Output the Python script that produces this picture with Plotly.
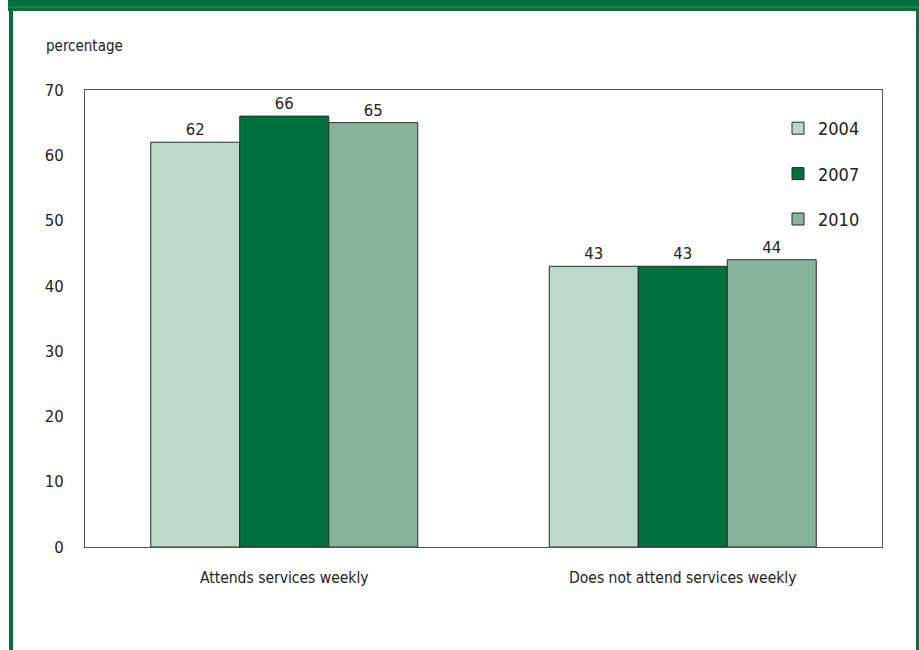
import plotly.graph_objects as go

categories = ["Attends services weekly", "Does not attend services weekly"]
years = ["2004", "2007", "2010"]
values_2004 = [62, 43]
values_2007 = [66, 43]
values_2010 = [65, 44]
colors = ["#bcd9c9", "#00703c", "#86b59b"]
series = [values_2004, values_2007, values_2010]

FONT = "DejaVu Sans Condensed, Liberation Sans, sans-serif"

W, H = 919, 650
L, R, T, B = 85, 37, 90, 103
pw, ph = W - L - R, H - T - B

def px(x):
    return (x - L) / pw

def py(y):
    return (H - B - y) / ph

fig = go.Figure()
for i, (yr, vals) in enumerate(zip(years, series)):
    fig.add_trace(go.Bar(
        x=categories, y=vals, name=yr, legendgroup=yr,
        marker=dict(color=colors[i], line=dict(color="#2a2a2a", width=1)),
        text=[str(v) for v in vals], textposition="outside",
        textfont=dict(family=FONT, size=16.5, color="#222"),
        cliponaxis=False,
    ))

GREEN = "#00703c"
shapes = [
    dict(type="rect", xref="paper", yref="paper", x0=px(8), x1=px(W + 2), y0=py(-3), y1=py(11),
         fillcolor=GREEN, line=dict(width=0), layer="above"),
    dict(type="rect", xref="paper", yref="paper", x0=px(8), x1=px(W + 2), y0=py(6.5), y1=py(7.5),
         fillcolor="#3f8e62", line=dict(width=0), layer="above"),
    dict(type="rect", xref="paper", yref="paper", x0=px(9), x1=px(13), y0=py(11), y1=py(H + 2),
         fillcolor=GREEN, line=dict(width=0), layer="above"),
    dict(type="rect", xref="paper", yref="paper", x0=px(916), x1=px(W + 2), y0=py(11), y1=py(H + 2),
         fillcolor=GREEN, line=dict(width=0), layer="above"),
]

fig.update_layout(
    width=W, height=H,
    margin=dict(l=L, r=R, t=T, b=B, pad=0),
    paper_bgcolor="white", plot_bgcolor="white",
    font=dict(family=FONT, size=16, color="#222"),
    barmode="group", bargap=0.33, bargroupgap=0,
    showlegend=True,
    legend=dict(x=px(778), y=py(110), xanchor="left", yanchor="top",
                bgcolor="rgba(0,0,0,0)", font=dict(family=FONT, size=18, color="#222"),
                tracegroupgap=19, itemwidth=30, traceorder="grouped"),
    xaxis=dict(showline=True, linecolor="#555", linewidth=1, mirror=True,
               ticks="", ticklabelstandoff=16, tickfont=dict(size=15.5)),
    yaxis=dict(range=[0, 70], dtick=10, showline=True, linecolor="#555", linewidth=1,
               mirror=True, showgrid=False, zeroline=False, ticks="",
               ticklabelstandoff=17, tickfont=dict(size=16.5)),
    shapes=shapes,
    annotations=[dict(text="percentage", xref="paper", yref="paper", x=px(44), y=py(46),
                      xanchor="left", yanchor="middle", showarrow=False,
                      font=dict(family=FONT, size=15, color="#222"))],
)

fig.write_html("out.html", config={"displayModeBar": False},
               post_script="document.body.style.margin='0';document.body.style.overflow='hidden';")
